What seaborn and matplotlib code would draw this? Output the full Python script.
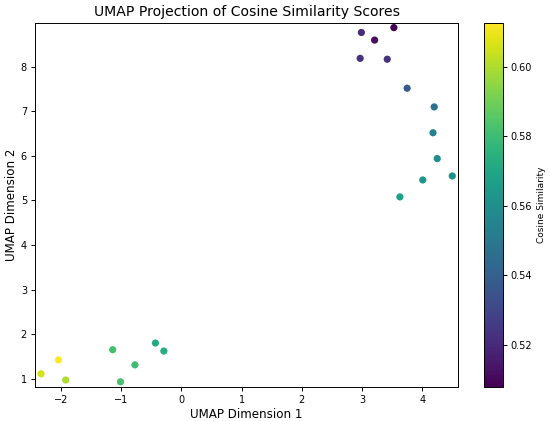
import matplotlib
matplotlib.use("Agg")
import matplotlib.pyplot as plt
import seaborn as sns
import pandas as pd

umap_x = [3.53, 3.21, 2.99, 2.97, 3.42, 3.75, 4.20, 4.18, 4.25, 4.50, 4.01, 3.63,
          -0.29, -0.43, -0.77, -1.01, -1.14, -1.92, -2.04, -2.33]
umap_y = [8.88, 8.60, 8.77, 8.19, 8.17, 7.52, 7.10, 6.52, 5.94, 5.55, 5.46, 5.08,
          1.62, 1.80, 1.31, 0.93, 1.65, 0.97, 1.42, 1.11]
cos_sim = [0.508, 0.512, 0.521, 0.523, 0.523, 0.538, 0.548, 0.553, 0.559, 0.561, 0.563, 0.568,
           0.573, 0.572, 0.580, 0.582, 0.582, 0.600, 0.6127, 0.606]

df = pd.DataFrame({"x": umap_x, "y": umap_y, "c": cos_sim})

plt.rcParams['font.family'] = ['DejaVu Sans']

fig = plt.figure(figsize=(5.5, 4.21), dpi=100)
W, H = 550, 421
ax = fig.add_axes([35 / W, (H - 386.7) / H, (458.3 - 35) / W, (386.7 - 22.7) / H])
cax = fig.add_axes([484.3 / W, (H - 386.7) / H, (502.7 - 484.3) / W, (386.7 - 22.7) / H])

vmin, vmax = min(cos_sim), max(cos_sim)
norm = plt.Normalize(vmin, vmax)
sns.scatterplot(data=df, x="x", y="y", hue="c", palette="viridis", hue_norm=norm,
                s=27, edgecolor="none", legend=False, ax=ax)
ax.set_xlim(-2.43, 4.60)
ax.set_ylim(0.82, 8.99)
ax.set_xticks([-2, -1, 0, 1, 2, 3, 4])
ax.set_yticks([1, 2, 3, 4, 5, 6, 7, 8])
ax.tick_params(labelsize=7, length=2.9, width=0.7, pad=2.9)
ax.set_xlabel("UMAP Dimension 1", fontsize=8.6, labelpad=2.2)
ax.set_ylabel("UMAP Dimension 2", fontsize=8.6, labelpad=2.0)
ax.set_title("UMAP Projection of Cosine Similarity Scores", fontsize=10.1, pad=5)
for s in ax.spines.values():
    s.set_linewidth(0.7)

sm = plt.cm.ScalarMappable(cmap="viridis", norm=norm)
cb = fig.colorbar(sm, cax=cax)
cb.set_ticks([0.52, 0.54, 0.56, 0.58, 0.60])
cb.ax.tick_params(labelsize=7, length=2.9, width=0.7, pad=2.9)
cb.set_label("Cosine Similarity", fontsize=6.5, labelpad=3)
cb.outline.set_linewidth(0.7)

fig.savefig("out.png", dpi=100)
